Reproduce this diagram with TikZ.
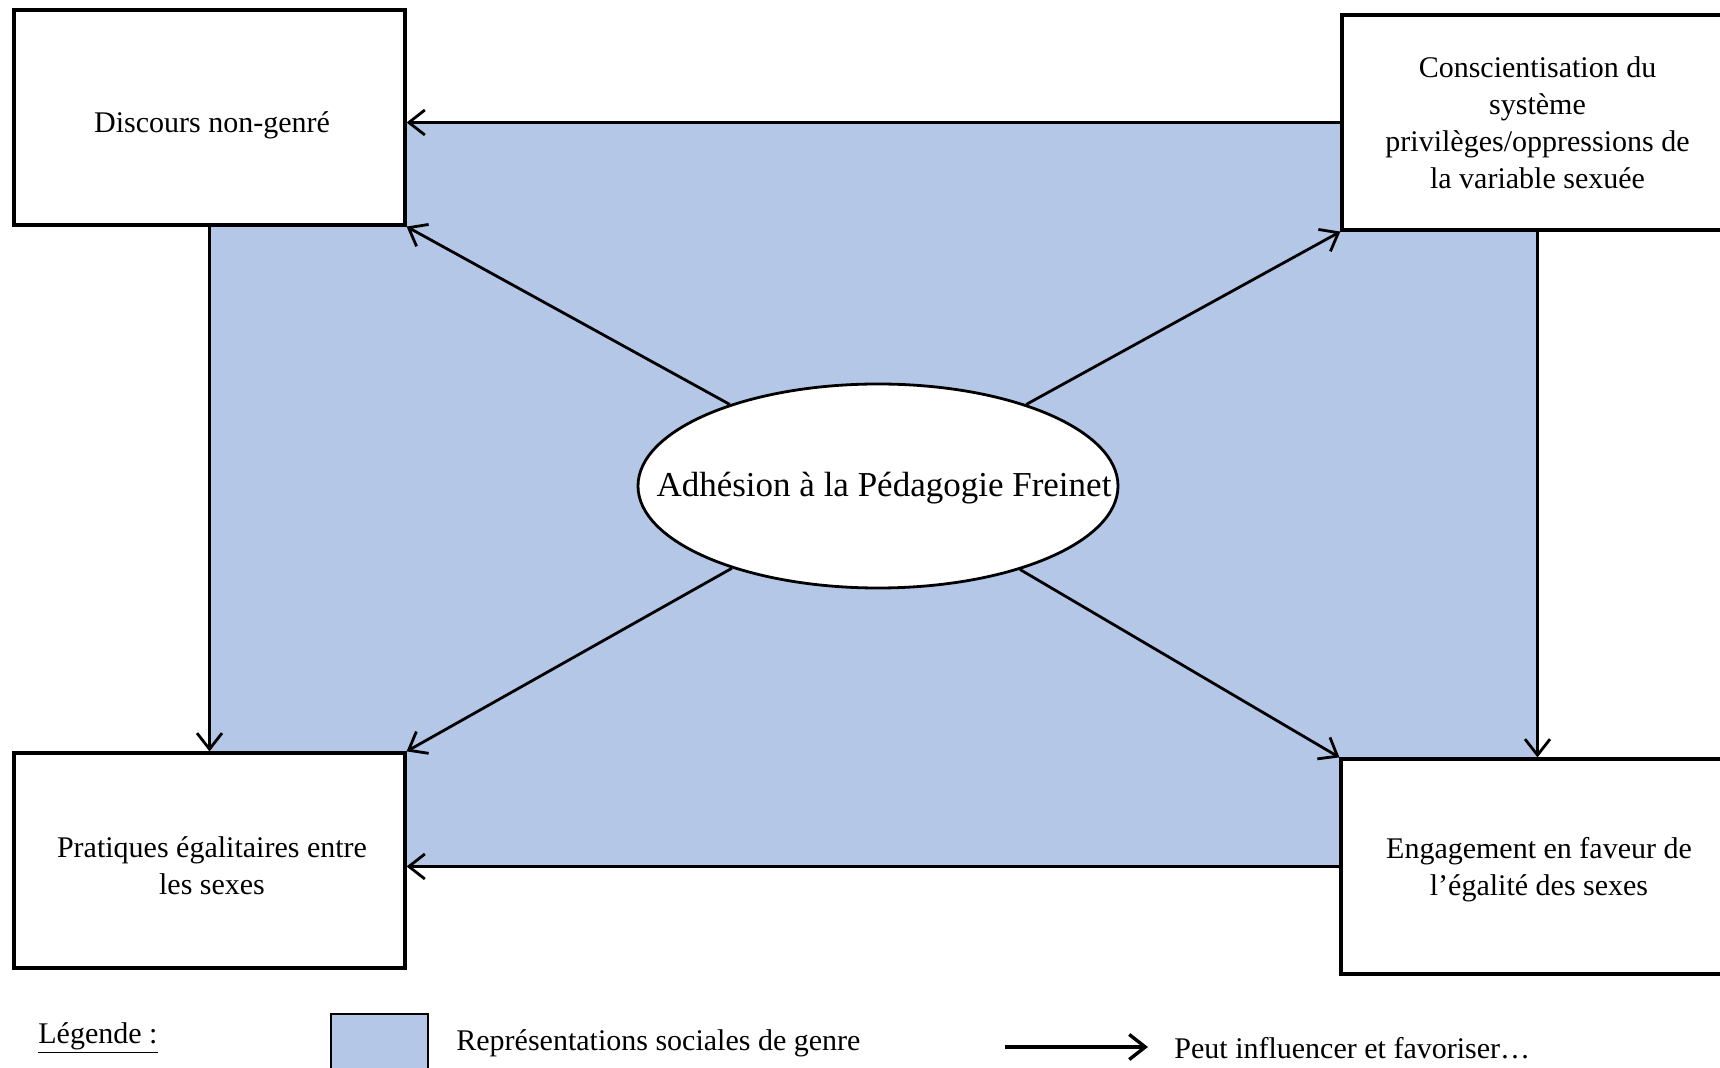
\documentclass[tikz,border=0pt]{standalone}
\usepackage{fontspec}
\setmainfont{Liberation Serif}
\usetikzlibrary{shapes.geometric,arrows.meta,backgrounds}
\definecolor{repblue}{RGB}{180,199,231}
\begin{document}
\begin{tikzpicture}[x=0.5pt,y=-0.5pt,
  box/.style={draw, line width=1.6pt, fill=white, minimum width=195.5pt, minimum height=107.5pt, align=center, font=\fontsize{15}{18.5}\selectfont, inner sep=0pt},
  arr/.style={-{Straight Barb[length=8pt,width=12.5pt]}, line width=1.4pt},
  legtext/.style={anchor=west, inner sep=0pt, font=\fontsize{15}{18}\selectfont}]
\useasboundingbox (0,0) rectangle (1720,1068);
\clip (0,0) rectangle (1720,1068);
% boxes
\node[box] (TL) at (209.5,117.5) {};
\node[font=\fontsize{15}{18.5}\selectfont, inner sep=0pt] (TLt) at (212,125) {Discours non-genré};
\node[box] (TR) at (1537.5,122.5) {Conscientisation du\\ système\\ privilèges/oppressions de\\ la variable sexuée};
\node[box] (BL) at (209.5,860.5) {};
\node[font=\fontsize{15}{18.5}\selectfont, inner sep=0pt, align=center] (BLt) at (212,866) {Pratiques égalitaires entre\\ les sexes};
\node[box] (BR) at (1536.5,866.5) {};
\node[font=\fontsize{15}{18.5}\selectfont, inner sep=0pt, align=center] (BRt) at (1539,870) {Engagement en faveur de\\ l’égalité des sexes};
% blue area
\begin{scope}[on background layer]
\fill[repblue] (TL.south |- TR.west) rectangle (TR.south |- BR.west);
\end{scope}
% ellipse
\node[ellipse, draw, line width=1.4pt, fill=white, minimum width=240pt, minimum height=102pt, inner sep=0pt] (E) at (878,486) {};
\node[font=\fontsize{17.5}{21}\selectfont, inner sep=0pt] (Etext) at (884,488) {Adhésion à la Pédagogie Freinet};
% connectors
\draw[arr] (TR.west) -- (TL.east |- TR.west);
\draw[arr] (BR.west) -- (BL.east |- BR.west);
\draw[arr] (TL.south) -- (BL.north);
\draw[arr] (TR.south) -- (TR.south |- BR.north);
\draw[arr] (E) -- (TL.south east);
\draw[arr] (E) -- (TR.south west);
\draw[arr] (E) -- (BL.north east);
\draw[arr] (E) -- (BR.north west);
% legend
\node[legtext] (leg) at (38,1038) {\underline{Légende :}};
\node[draw, line width=1.2pt, fill=repblue, anchor=north west, minimum width=48.5pt, minimum height=45pt, inner sep=0pt] (legbox) at (330,1013) {};
\node[legtext] (legrep) at (456,1043) {Représentations sociales de genre};
\coordinate (la1) at (1005,1047);
\coordinate (la2) at (1148,1047);
\draw[arr, line width=1.7pt] (la1) -- (la2);
\node[legtext] (legarr) at (1174,1048) {Peut influencer et favoriser…};
\end{tikzpicture}
\end{document}
